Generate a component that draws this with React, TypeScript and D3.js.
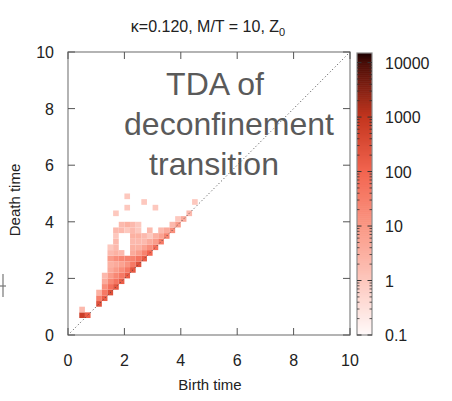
import React from "react";
import * as d3 from "d3";

// axis ticks
const xTicks = [0, 2, 4, 6, 8, 10];
const yTicks = [0, 2, 4, 6, 8, 10];
const colorTicks = [0.1, 1, 10, 100, 1000, 10000];
const colorTickLabels = ["0.1", "1", "10", "100", "1000", "10000"];

// persistence diagram bins: [birth, death, count], bin size 0.2
const binSize = 0.2;
const cells: [number, number, number][] = [
  [0.4, 0.6, 700], [0.4, 0.8, 2],
  [0.6, 0.6, 150],
  [1.0, 1.0, 250], [1.0, 1.2, 30], [1.0, 1.4, 3],
  [1.2, 1.2, 150], [1.2, 1.4, 40], [1.2, 1.6, 15], [1.2, 1.8, 4], [1.2, 2.0, 2],
  [1.4, 1.4, 300], [1.4, 1.6, 60], [1.4, 1.8, 20], [1.4, 2.0, 8], [1.4, 2.2, 4], [1.4, 2.4, 3], [1.4, 2.6, 8], [1.4, 2.8, 2], [1.4, 3.0, 1],
  [1.6, 1.6, 200], [1.6, 1.8, 50], [1.6, 2.0, 20], [1.6, 2.2, 8], [1.6, 2.4, 4], [1.6, 2.6, 15], [1.6, 2.8, 3], [1.6, 3.0, 2], [1.6, 3.2, 2], [1.6, 3.4, 1], [1.6, 3.6, 2], [1.6, 4.2, 1],
  [1.8, 1.8, 150], [1.8, 2.0, 40], [1.8, 2.2, 15], [1.8, 2.4, 6], [1.8, 2.6, 20], [1.8, 2.8, 2], [1.8, 3.6, 2], [1.8, 3.8, 2],
  [2.0, 2.0, 150], [2.0, 2.2, 40], [2.0, 2.4, 12], [2.0, 2.6, 25], [2.0, 3.6, 1], [2.0, 3.8, 3], [2.0, 4.4, 1], [2.0, 4.8, 1],
  [2.2, 2.2, 200], [2.2, 2.4, 40], [2.2, 2.6, 25], [2.2, 2.8, 4], [2.2, 3.0, 3], [2.2, 3.2, 2], [2.2, 3.4, 3], [2.2, 3.6, 2], [2.2, 3.8, 2],
  [2.4, 2.4, 250], [2.4, 2.6, 50], [2.4, 2.8, 8], [2.4, 3.0, 3], [2.4, 3.2, 2], [2.4, 3.4, 3], [2.4, 3.6, 1], [2.4, 3.8, 1],
  [2.6, 2.6, 150], [2.6, 2.8, 25], [2.6, 3.0, 6], [2.6, 3.2, 2], [2.6, 3.4, 2], [2.6, 4.6, 1],
  [2.8, 2.8, 100], [2.8, 3.0, 15], [2.8, 3.2, 4], [2.8, 3.4, 1], [2.8, 3.6, 2],
  [3.0, 3.0, 60], [3.0, 3.2, 8], [3.0, 3.4, 3], [3.0, 4.4, 1],
  [3.2, 3.2, 40], [3.2, 3.4, 6], [3.2, 3.6, 2],
  [3.4, 3.4, 25], [3.4, 3.6, 4],
  [3.6, 3.6, 15], [3.6, 3.8, 2],
  [3.8, 3.8, 8], [3.8, 4.0, 1],
  [4.0, 4.0, 4],
  [4.2, 4.2, 2],
  [4.4, 4.6, 1],
];

// colour palette stops (count -> colour)
const paletteStops = [0.1, 1, 10, 100, 1000, 10000, 15000];
const paletteColors = ["#fffafa", "#fdc8be", "#fa9784", "#f36550", "#c4361f", "#4a0c06", "#1c0000"];

const FONT = "'Liberation Sans', Arial, Helvetica, sans-serif";

export default function App() {
  const width = 452;
  const height = 401;
  const plot = { left: 68, right: 350, top: 52, bottom: 335 };
  const bar = { left: 357, right: 372, top: 53, bottom: 335 };

  const x = d3.scaleLinear().domain([0, 10]).range([plot.left, plot.right]);
  const y = d3.scaleLinear().domain([0, 10]).range([plot.bottom, plot.top]);
  const color = d3.scaleLog<string>().domain(paletteStops).range(paletteColors).clamp(true);
  const cy = d3.scaleLog().domain([0.1, 15000]).range([bar.bottom, bar.top]);

  const cw = x(binSize) - x(0);
  const ch = y(0) - y(binSize);

  // colour bar gradient samples
  const barSteps = d3.range(0, 141).map((i) =>
    Math.pow(10, Math.log10(0.1) + (i / 140) * (Math.log10(15000) - Math.log10(0.1)))
  );

  // log minor ticks on the colour bar
  const minor: number[] = [];
  [0.1, 1, 10, 100, 1000, 10000].forEach((dec) => {
    for (let k = 2; k <= 9; k++) {
      const v = dec * k;
      if (v < 15000) minor.push(v);
    }
  });

  const tickColor = "#555";
  const frameColor = "#8c8c8c";

  return (
    <svg width={width} height={height} style={{ position: "absolute", left: 0, top: 0, background: "#fff" }}>
      <rect x={0} y={0} width={width} height={height} fill="#fff" />

      {/* title */}
      <text x={208} y={32} textAnchor="middle" fontFamily={FONT} fontSize={16} fill="#222">
        κ=0.120, M/T = 10, Z<tspan fontSize={11} dy={4}>0</tspan>
      </text>

      {/* heat map cells */}
      <g>
        {cells.map(([b, dd, c], i) => (
          <rect key={i} x={x(b)} y={y(dd + binSize)} width={cw} height={ch} fill={color(c)} />
        ))}
      </g>

      {/* diagonal */}
      <line x1={x(0)} y1={y(0)} x2={x(10)} y2={y(10)} stroke="#444" strokeWidth={1} strokeDasharray="1,2.5" />

      {/* frame */}
      <rect x={plot.left} y={plot.top} width={plot.right - plot.left} height={plot.bottom - plot.top} fill="none" stroke={frameColor} strokeWidth={1.3} />

      {/* x ticks bottom + top */}
      {xTicks.map((t) => (
        <g key={"x" + t}>
          <line x1={x(t)} x2={x(t)} y1={plot.bottom} y2={plot.bottom - 7} stroke={tickColor} />
          <line x1={x(t)} x2={x(t)} y1={plot.top} y2={plot.top + 7} stroke={tickColor} />
          <text x={x(t)} y={366} textAnchor="middle" fontFamily={FONT} fontSize={16} fill="#222">
            {t}
          </text>
        </g>
      ))}

      {/* y ticks left + right */}
      {yTicks.map((t) => (
        <g key={"y" + t}>
          <line x1={plot.left} x2={plot.left + 7} y1={y(t)} y2={y(t)} stroke={tickColor} />
          <line x1={plot.right} x2={plot.right - 7} y1={y(t)} y2={y(t)} stroke={tickColor} />
          <text x={54} y={y(t) + 6} textAnchor="end" fontFamily={FONT} fontSize={16} fill="#222">
            {t}
          </text>
        </g>
      ))}

      {/* axis titles */}
      <text x={210} y={390} textAnchor="middle" fontFamily={FONT} fontSize={15} fill="#222">
        Birth time
      </text>
      <text transform="translate(20,200) rotate(-90)" textAnchor="middle" fontFamily={FONT} fontSize={15} fill="#222">
        Death time
      </text>

      {/* overlay annotation */}
      <g fontFamily={FONT} fontSize={32} fill="#5a5a5a" textAnchor="middle">
        <text x={215} y={95}>TDA of</text>
        <text x={229} y={135}>deconfinement</text>
        <text x={214} y={175}>transition</text>
      </g>

      {/* colour bar */}
      <g>
        {barSteps.slice(0, -1).map((v, i) => {
          const v2 = barSteps[i + 1];
          return (
            <rect key={i} x={bar.left} y={cy(v2)} width={bar.right - bar.left} height={cy(v) - cy(v2) + 0.6} fill={color(Math.sqrt(v * v2))} />
          );
        })}
        <rect x={bar.left} y={bar.top} width={bar.right - bar.left} height={bar.bottom - bar.top} fill="none" stroke={frameColor} strokeWidth={1.2} />
        {minor.map((v, i) => (
          <g key={"m" + i}>
            <line x1={bar.left} x2={bar.left + 2.5} y1={cy(v)} y2={cy(v)} stroke="#333" strokeWidth={0.8} />
            <line x1={bar.right} x2={bar.right - 2.5} y1={cy(v)} y2={cy(v)} stroke="#333" strokeWidth={0.8} />
          </g>
        ))}
        {colorTicks.map((v, i) => (
          <g key={"c" + v}>
            <line x1={bar.left} x2={bar.left + 4.5} y1={cy(v)} y2={cy(v)} stroke="#333" />
            <line x1={bar.right} x2={bar.right - 4.5} y1={cy(v)} y2={cy(v)} stroke="#333" />
            <text x={385} y={cy(v) + 6} fontFamily={FONT} fontSize={16} fill="#222">
              {colorTickLabels[i]}
            </text>
          </g>
        ))}
      </g>

      {/* stray mark at left edge */}
      <g stroke="#777" strokeWidth={1.2}>
        <line x1={3} x2={3} y1={274} y2={297} />
        <line x1={0} x2={6} y1={286} y2={286} />
      </g>
    </svg>
  );
}
